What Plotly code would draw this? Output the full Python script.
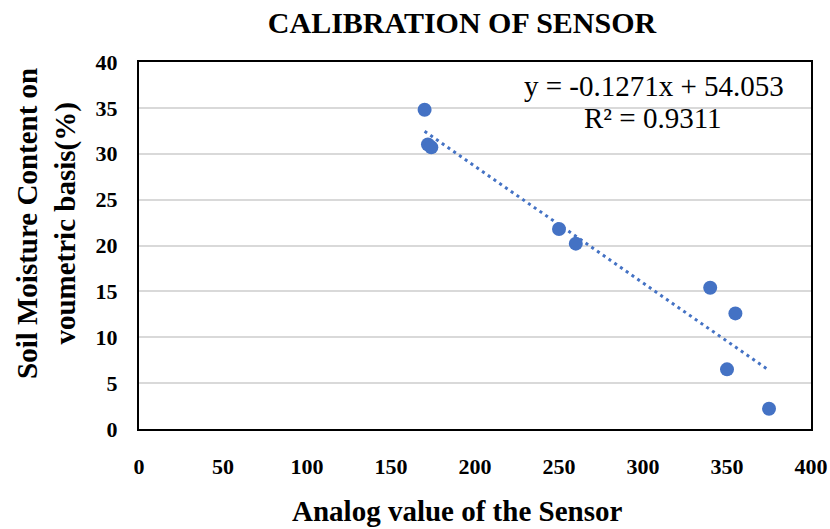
import plotly.graph_objects as go
import numpy as np

analog = [170, 172, 174, 250, 260, 340, 355, 350, 375]
moisture = [34.8, 31.0, 30.7, 21.8, 20.2, 15.4, 12.6, 6.5, 2.2]
slope = -0.1271
intercept = 54.053
r2 = 0.9311
x_ticks = [0, 50, 100, 150, 200, 250, 300, 350, 400]
y_ticks = [0, 5, 10, 15, 20, 25, 30, 35, 40]

blue = "#4472C4"
serif = "Liberation Serif, Times New Roman, serif"

xl = np.array([min(analog), max(analog)])
yl = slope * xl + intercept

fig = go.Figure()
fig.add_trace(go.Scatter(x=xl, y=yl, mode="lines",
                         line=dict(color=blue, width=3, dash="3px,4px"),
                         showlegend=False, hoverinfo="skip"))
fig.add_trace(go.Scatter(x=analog, y=moisture, mode="markers",
                         marker=dict(color=blue, size=14),
                         showlegend=False))

fig.update_layout(
    width=830, height=529,
    margin=dict(l=139, r=19, t=62, b=100, autoexpand=False),
    paper_bgcolor="white", plot_bgcolor="white",
    font=dict(family=serif, color="black"),
    title=dict(text="<b>CALIBRATION OF SENSOR</b>", x=462/830, xanchor="center",
               y=1-22/529, yanchor="middle", yref="container",
               font=dict(size=30, family=serif, color="black")),
)
fig.update_xaxes(range=[0, 400], tickvals=x_ticks, ticktext=[f"<b>{v}</b>" for v in x_ticks],
                 showgrid=False, zeroline=False, automargin=False,
                 showline=True, linecolor="black", linewidth=2, mirror=True,
                 ticks="outside", ticklen=17, tickcolor="rgba(0,0,0,0)",
                 tickfont=dict(size=22, family=serif, color="black"))
fig.update_yaxes(range=[0, 40], tickvals=y_ticks, ticktext=[f"<b>{v}</b>" for v in y_ticks],
                 showgrid=True, gridcolor="#d9d9d9", gridwidth=1.5, zeroline=False, automargin=False,
                 showline=True, linecolor="black", linewidth=2, mirror=True,
                 ticks="outside", ticklen=15, tickcolor="rgba(0,0,0,0)",
                 tickfont=dict(size=22, family=serif, color="black"))

fig.add_annotation(text=f"y = {slope}x + {intercept}", xref="paper", yref="paper",
                   x=0.766, y=0.935, xanchor="center", yanchor="middle", showarrow=False,
                   font=dict(size=29, family=serif, color="black"))
fig.add_annotation(text=f"R² = {r2}", xref="paper", yref="paper",
                   x=0.765, y=0.848, xanchor="center", yanchor="middle", showarrow=False,
                   font=dict(size=29, family=serif, color="black"))
fig.add_annotation(text="<b>Analog value of the Sensor</b>", xref="paper", yref="paper",
                   x=0.4725, y=(429-511)/367, xanchor="center", yanchor="middle", showarrow=False,
                   font=dict(size=29, family=serif, color="black"))
fig.add_annotation(text="<b>Soil Moisture Content on<br>voumetric basis(%)</b>",
                   xref="paper", yref="paper", x=(46-139)/672, y=(429-224)/367,
                   xanchor="center", yanchor="middle", textangle=-90, showarrow=False,
                   font=dict(size=29, family=serif, color="black"))

fig.write_html("out.html", config={"displayModeBar": False},
               post_script="document.body.style.margin='0';document.body.style.overflow='hidden';")
